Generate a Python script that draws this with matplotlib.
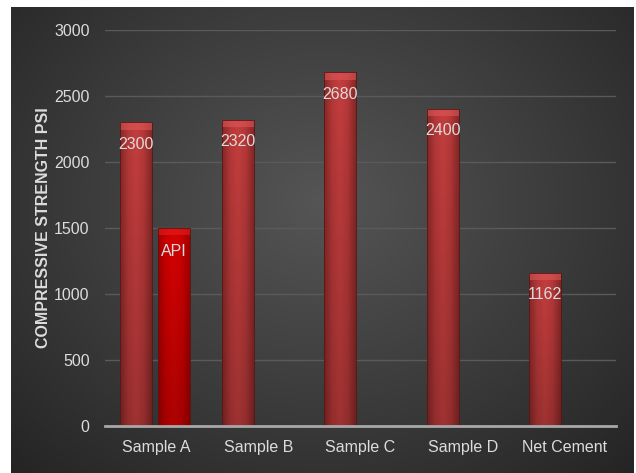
import numpy as np
import matplotlib
matplotlib.use("Agg")
import matplotlib.pyplot as plt
from matplotlib.colors import LinearSegmentedColormap

categories = ["Sample A", "Sample B", "Sample C", "Sample D", "Net Cement"]
strength = [2300, 2320, 2680, 2400, 1162]
strength_labels = ["2300", "2320", "2680", "2400", "1162"]
api = [1500, np.nan, np.nan, np.nan, np.nan]
api_labels = ["API", "", "", "", ""]
yticks = [0, 500, 1000, 1500, 2000, 2500, 3000]
ylabel = "COMPRESSIVE STRENGTH PSI"

FONT = ["Liberation Sans Narrow", "Liberation Sans", "DejaVu Sans"]
plt.rcParams["font.family"] = FONT
TXT = "#dcdcdc"
FS = 11.5

fig = plt.figure(figsize=(6.36, 4.73), dpi=100, facecolor="white")

# dark background panel with radial gradient
bg = fig.add_axes([11 / 636, 0, (634 - 11) / 636, (473 - 7) / 473])
bg.set_axis_off()
yy, xx = np.mgrid[0:1:300j, 0:1:400j]
r = np.sqrt(((xx - 0.5) / 0.75) ** 2 + ((yy - 0.42) / 0.85) ** 2)
bgcmap = LinearSegmentedColormap.from_list("bg", ["#555555", "#3c3c3c", "#222222"])
bg.imshow(np.clip(r, 0, 1), cmap=bgcmap, vmin=0, vmax=1, aspect="auto",
          extent=[0, 1, 0, 1], origin="upper")
bg.set_xlim(0, 1)
bg.set_ylim(0, 1)

ax = fig.add_axes([105 / 636, (473 - 426) / 473, 511 / 636, 396 / 473])
ax.patch.set_alpha(0)
x = np.arange(len(categories))
w = 0.313
b1 = ax.bar(x - 0.196, strength, width=w, color="#b53636", zorder=3)
b2 = ax.bar(x + 0.176, api, width=w, color="#cc0000", zorder=3)

cm1 = LinearSegmentedColormap.from_list("s1", ["#862828", "#b53838", "#c43e3e", "#b53838", "#862828"])
cm2 = LinearSegmentedColormap.from_list("s2", ["#a00000", "#cc0000", "#d40404", "#cc0000", "#a00000"])
vert1 = LinearSegmentedColormap.from_list("v1", ["#00000000", "#00000030"])

grad_h = np.linspace(0, 1, 64).reshape(1, -1)
for bars, cm in ((b1, cm1), (b2, cm2)):
    for p in bars:
        h = p.get_height()
        if not np.isfinite(h) or h <= 0:
            continue
        x0, w0 = p.get_x(), p.get_width()
        im = ax.imshow(grad_h, cmap=cm, aspect="auto", extent=[x0, x0 + w0, 0, h],
                       zorder=3.5, interpolation="bicubic")
        im.set_clip_path(p)
        vg = np.linspace(0, 1, 64).reshape(-1, 1)
        im2 = ax.imshow(vg, cmap=vert1, aspect="auto", extent=[x0, x0 + w0, 0, h],
                        zorder=3.6, origin="upper", interpolation="bicubic")
        im2.set_clip_path(p)
        cap = 55
        ax.bar(x0 + w0 / 2, cap, bottom=h - cap, width=w0,
               color="#e25a5a" if cm is cm1 else "#e82020", alpha=0.55, zorder=3.7)
        ax.bar(x0 + w0 / 2, h, width=w0, fill=False, edgecolor="#5a1515", linewidth=0.6, zorder=3.8)

for p, lab in zip(b1, strength_labels):
    ax.text(p.get_x() + p.get_width() / 2, p.get_height() - 165, lab, ha="center", va="center",
            color=TXT, fontsize=FS, zorder=5)
for p, lab in zip(b2, api_labels):
    if lab:
        ax.text(p.get_x() + p.get_width() / 2, p.get_height() - 175, lab, ha="center", va="center",
                color=TXT, fontsize=FS, zorder=5)

ax.set_xlim(-0.5, len(categories) - 0.5)
ax.set_ylim(0, 3000)
ax.set_yticks(yticks)
ax.set_yticklabels([str(v) for v in yticks])
ax.set_xticks(x)
ax.set_xticklabels(categories)
ax.tick_params(axis="both", colors=TXT, labelsize=FS, length=0)
ax.tick_params(axis="y", pad=11)
ax.tick_params(axis="x", pad=10)
ax.grid(axis="y", color="#5a5a5a", linewidth=1.0, zorder=1)
for s in ("top", "right", "left"):
    ax.spines[s].set_visible(False)
ax.spines["bottom"].set_color("#a8a8a8")
ax.spines["bottom"].set_linewidth(2)
ax.spines["bottom"].set_zorder(4)
ax.set_ylabel(ylabel, color=TXT, fontsize=11.5, fontweight="bold")
ax.yaxis.set_label_coords(-0.105, 0.5)

fig.savefig("out.png", dpi=100, facecolor="white")
